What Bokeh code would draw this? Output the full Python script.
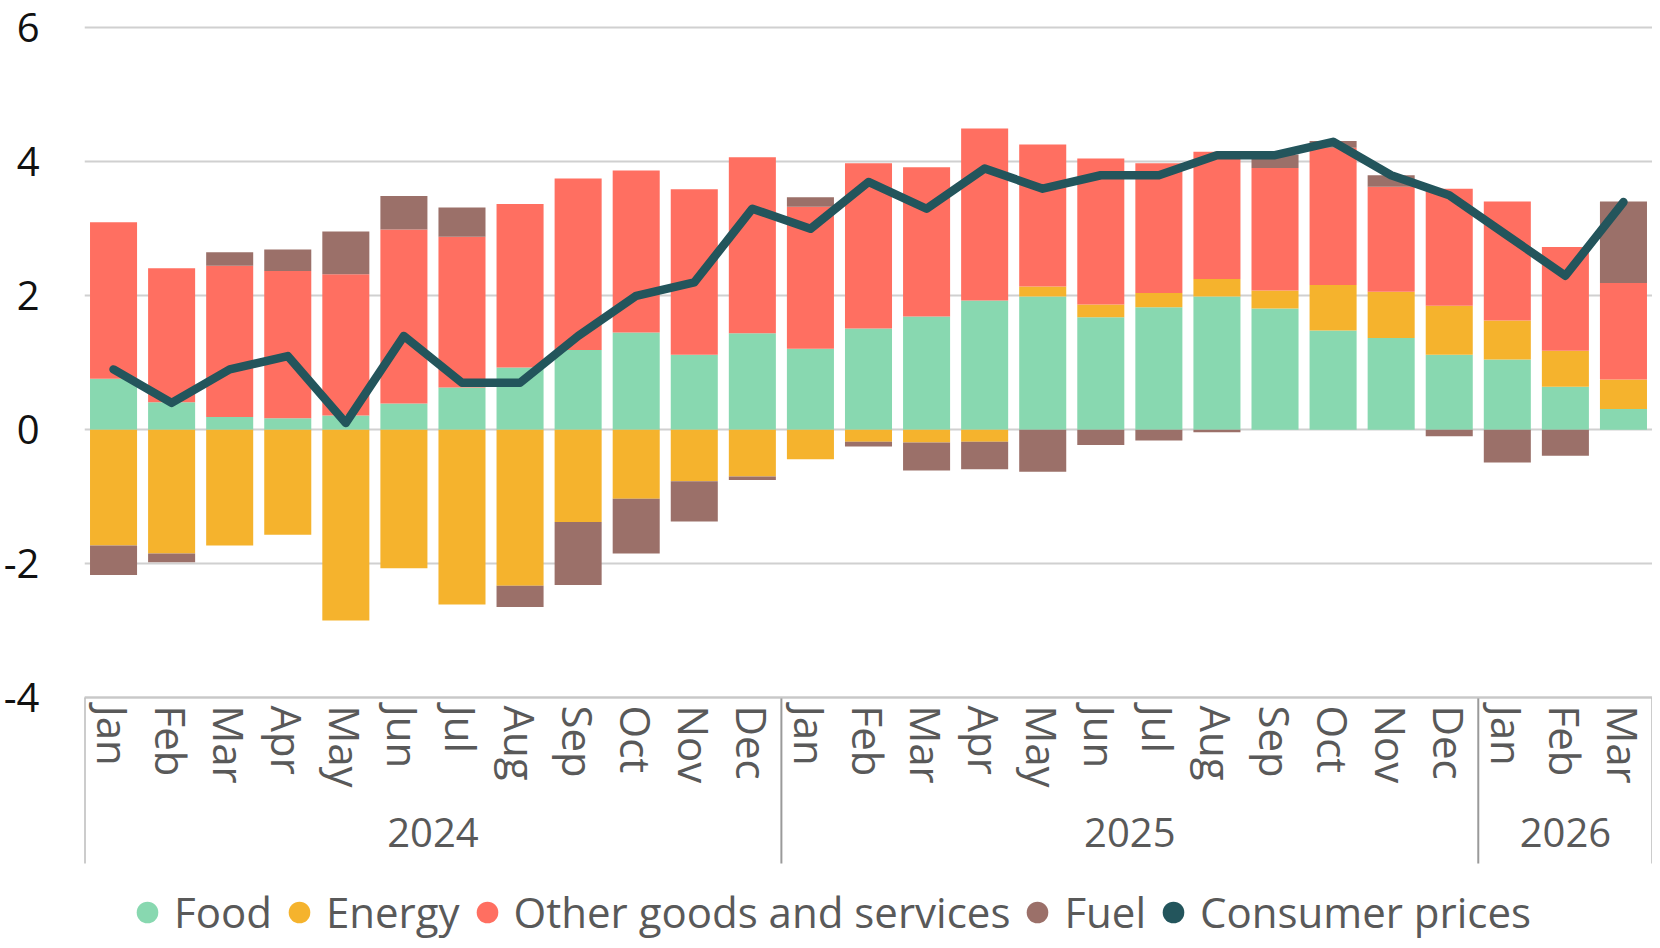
from bokeh.plotting import figure
from bokeh.models import FactorRange, Range1d, FixedTicker, Legend, LegendItem, CategoricalAxis
from bokeh.embed import file_html
from bokeh.resources import INLINE

years = ["2024"] * 12 + ["2025"] * 12 + ["2026"] * 3
months = ["Jan", "Feb", "Mar", "Apr", "May", "Jun", "Jul", "Aug", "Sep", "Oct", "Nov", "Dec",
          "Jan", "Feb", "Mar", "Apr", "May", "Jun", "Jul", "Aug", "Sep", "Oct", "Nov", "Dec",
          "Jan", "Feb", "Mar"]

food = [0.76, 0.41, 0.19, 0.17, 0.21, 0.39, 0.63, 0.93, 1.19, 1.45, 1.12, 1.44,
        1.21, 1.51, 1.69, 1.93, 1.99, 1.68, 1.83, 1.99, 1.81, 1.48, 1.37, 1.12,
        1.05, 0.64, 0.31]
energy = [-1.73, -1.85, -1.73, -1.57, -2.85, -2.07, -2.61, -2.33, -1.38, -1.03, -0.77, -0.70,
          -0.44, -0.18, -0.19, -0.18, 0.15, 0.19, 0.21, 0.26, 0.27, 0.68, 0.69, 0.73,
          0.58, 0.54, 0.44]
other = [2.34, 2.00, 2.26, 2.20, 2.11, 2.60, 2.25, 2.44, 2.56, 2.42, 2.47, 2.63,
         2.12, 2.47, 2.23, 2.57, 2.12, 2.18, 1.94, 1.90, 1.83, 2.05, 1.57, 1.75,
         1.78, 1.55, 1.44]
fuel = [-0.44, -0.13, 0.20, 0.32, 0.64, 0.50, 0.44, -0.32, -0.94, -0.82, -0.60, -0.05,
        0.14, -0.07, -0.42, -0.41, -0.63, -0.23, -0.16, -0.04, 0.20, 0.10, 0.17, -0.10,
        -0.49, -0.39, 1.22]
consumer_prices = [0.9, 0.4, 0.9, 1.1, 0.1, 1.4, 0.7, 0.7, 1.4, 2.0, 2.2, 3.3,
                   3.0, 3.7, 3.3, 3.9, 3.6, 3.8, 3.8, 4.1, 4.1, 4.3, 3.8, 3.5,
                   2.9, 2.3, 3.4]
y_ticks = [-4, -2, 0, 2, 4, 6]
y_tick_labels = {-4: "-4", -2: "-2", 0: "0", 2: "2", 4: "4", 6: "6"}

series_names = ["Food", "Energy", "Other goods and services", "Fuel"]
series_values = [food, energy, other, fuel]
colors = ["#88D8B0", "#F5B32D", "#FF6F61", "#9B7069"]
line_color = "#23555C"
FONT = "Open Sans"
GREY = "#595959"

factors = list(zip(years, months))
y_min = min(y_ticks)
SEP_BOTTOM = -6.48   # how far the year separators reach below the axis

p = figure(x_range=FactorRange(*factors, range_padding=0.0, group_padding=0.0, factor_padding=0.0),
           y_range=Range1d(-7.630, 6.037),
           frame_width=1568, frame_height=915, output_backend="svg", toolbar_location=None,
           min_border_left=76, min_border_right=0, min_border_top=25, min_border_bottom=0)

pos_base = [0.0] * len(factors)
neg_base = [0.0] * len(factors)
for name, vals, col in zip(series_names, series_values, colors):
    bottoms, tops = [], []
    for i, v in enumerate(vals):
        if v >= 0:
            bottoms.append(pos_base[i]); tops.append(pos_base[i] + v); pos_base[i] += v
        else:
            bottoms.append(neg_base[i]); tops.append(neg_base[i] + v); neg_base[i] += v
    p.vbar(x=factors, bottom=bottoms, top=tops, width=0.81, fill_color=col, line_color=None)

p.line(x=factors, y=consumer_prices, line_width=8.5, line_color=line_color,
       line_join="round", line_cap="round")

# year separators below the axis: at the start of each year and after the last month
sep_x = [(y, m, -0.5) for (y, m), prev in zip(factors, [None] + factors[:-1])
         if prev is None or prev[0] != y] + [(factors[-1][0], factors[-1][1], 0.5)]
p.segment(x0=sep_x, x1=sep_x, y0=[y_min] * len(sep_x), y1=[SEP_BOTTOM] * len(sep_x),
          line_color="#9a9a9a", line_width=2)

items = []
for name, col in zip(series_names + ["Consumer prices"], colors + [line_color]):
    r = p.scatter(x=[factors[0]], y=[-100], marker="circle", fill_color=col, line_color=None)
    items.append(LegendItem(label=name, renderers=[r]))

legend = Legend(items=items, orientation="horizontal", location=(36, 0),
                label_text_font=FONT, label_text_font_size="42px", label_text_color=GREY,
                glyph_width=54, glyph_height=54, label_standoff=0, spacing=0,
                padding=0, margin=0, border_line_color=None, background_fill_alpha=0)
p.add_layout(legend, "center")

p.ygrid.ticker = FixedTicker(ticks=y_ticks)
p.ygrid.grid_line_color = "#d0d0d0"
p.ygrid.grid_line_width = 2
p.xgrid.grid_line_color = None
p.outline_line_color = None

p.yaxis.ticker = FixedTicker(ticks=y_ticks)
p.yaxis.major_label_overrides = y_tick_labels
p.yaxis.axis_line_color = None
p.yaxis.major_tick_line_color = None
p.yaxis.minor_tick_line_color = None
p.yaxis.major_label_text_font = FONT
p.yaxis.major_label_text_font_size = "40px"
p.yaxis.major_label_text_color = "#111111"
p.yaxis.major_label_standoff = 39

# month axis
xa = p.xaxis[0]
xa.fixed_location = y_min
xa.axis_line_color = "#c8c8c8"
xa.axis_line_width = 2
xa.major_tick_line_color = None
xa.minor_tick_line_color = None
xa.major_label_orientation = "vertical"
xa.major_label_text_font = FONT
xa.major_label_text_font_size = "42px"
xa.major_label_text_color = GREY
xa.major_label_standoff = 2
xa.group_text_font_size = "0px"
xa.group_text_color = None
xa.separator_line_color = None

# year axis
ya = CategoricalAxis(fixed_location=y_min)
ya.axis_line_color = None
ya.major_tick_line_color = None
ya.minor_tick_line_color = None
ya.major_label_text_font_size = "0px"
ya.major_label_text_color = None
ya.major_label_standoff = 115
ya.group_text_font = FONT
ya.group_text_font_size = "40px"
ya.group_text_font_style = "normal"
ya.group_text_color = GREY
ya.separator_line_color = None
p.add_layout(ya, "below")

open("out.html", "w").write(file_html(p, INLINE))
